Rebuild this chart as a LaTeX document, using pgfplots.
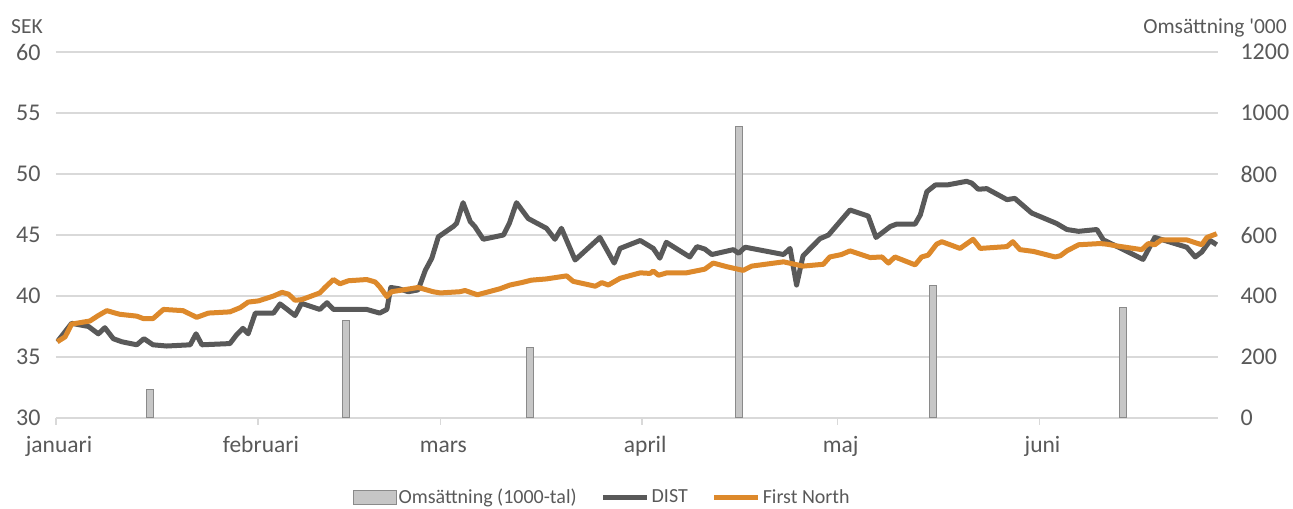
\documentclass[border=0pt]{standalone}
\usepackage{pgfplots}
\pgfplotsset{compat=1.18}
\usepackage{fontspec}
\setmainfont{Carlito}
\definecolor{distc}{RGB}{89,89,89}
\definecolor{fnc}{RGB}{221,137,43}
\definecolor{gridc}{RGB}{217,217,217}
\definecolor{barf}{RGB}{198,198,198}
\definecolor{bard}{RGB}{138,138,138}
\definecolor{txtc}{RGB}{89,89,89}
\begin{document}
\begin{tikzpicture}
\useasboundingbox (0,0) rectangle (1293bp,509bp);
% bars (right axis) with grid
\begin{axis}[
  at={(56bp,91bp)}, anchor=south west,
  scale only axis, width=1162bp, height=366bp,
  xmin=0, xmax=178.4, ymin=0, ymax=1200,
  axis x line*=bottom, axis y line*=right,
  y axis line style={draw=none},
  x axis line style={draw=gridc, line width=1.5bp},
  ytick={0,200,...,1200},
  ytick style={draw=none},
  ymajorgrids, grid style={draw=gridc, line width=1.5bp},
  xtick={0,31,59,90,120,151},
  xticklabels={januari,februari,mars,april,maj,juni},
  xtick style={draw=gridc, line width=1.5bp},
  tick align=outside, major tick length=7bp,
  xticklabel style={font=\fontsize{23.5bp}{28bp}\selectfont, text=txtc, anchor=base, yshift=-27bp, xshift=3bp},
  yticklabel style={font=\fontsize{24bp}{28bp}\selectfont, text=txtc, anchor=west, xshift=12bp},
  /pgf/number format/assume math mode=true,
  /pgf/number format/1000 sep={},
  clip=false,
]
\addplot[ybar, bar width=7bp, fill=barf, draw=bard, line width=1bp] coordinates {
 (14.4,95) (44.5,321) (72.7,230) (104.8,957) (134.7,433) (163.8,361)
};
\end{axis}
% lines (left axis)
\begin{axis}[
  at={(56bp,91bp)}, anchor=south west,
  scale only axis, width=1162bp, height=366bp,
  xmin=0, xmax=178.4, ymin=30, ymax=60,
  axis x line=none, axis y line*=left,
  y axis line style={draw=none},
  ytick={30,35,...,60}, ytick style={draw=none},
  yticklabel style={font=\fontsize{24bp}{28bp}\selectfont, text=txtc, anchor=east, xshift=-12bp},
  /pgf/number format/assume math mode=true,
  legend columns=3,
  legend image code/.code={\draw[#1] (0bp,0bp) -- (44bp,0bp);},
  legend style={at={(0.470,-0.216)}, anchor=center, draw=none, fill=none,
    font=\fontsize{20bp}{24bp}\selectfont, text=txtc,
    /tikz/every even column/.append style={column sep=22bp},
    inner sep=0pt},
  legend cell align=left,
]
\addlegendimage{legend image code/.code={\draw[fill=barf, draw=bard, line width=1bp] (0bp,-7bp) rectangle (43bp,7bp);}}
\addlegendentry{Omsättning (1000-tal)}
\addplot[distc, line width=5bp, line join=round] coordinates {
(0.2,36.25) (2.4,37.76) (5.0,37.5) (6.5,36.9) (7.5,37.4) (8.8,36.5) (10.1,36.25)
(12.4,36.0) (13.5,36.5) (14.9,36.0) (17.0,35.9) (20.6,36.0) (21.5,36.9) (22.4,36.0)
(26.7,36.1) (27.7,36.8) (28.7,37.35) (29.5,36.9) (30.6,38.6) (33.4,38.6) (34.4,39.35)
(35.5,38.9) (36.7,38.4) (37.7,39.4) (40.5,38.9) (41.6,39.45) (42.6,38.9) (47.7,38.9)
(49.7,38.6) (50.8,38.9) (51.4,40.7) (52.6,40.6) (54.1,40.35) (55.6,40.5) (56.7,42.1)
(57.7,43.1) (58.7,44.85) (61.0,45.7) (61.5,45.95) (62.5,47.65) (63.6,46.1) (64.3,45.7)
(65.6,44.65) (68.7,45.0) (69.6,45.95) (70.7,47.65) (72.5,46.35) (75.3,45.55) (76.6,44.65)
(77.6,45.55) (79.7,42.95) (83.5,44.8) (85.7,42.7) (86.6,43.9) (89.7,44.55) (91.7,43.9)
(92.7,43.1) (93.7,44.4) (97.3,43.2) (98.4,44.05) (99.6,43.85) (100.7,43.4) (104.0,43.8)
(104.8,43.5) (105.8,44.0) (111.7,43.4) (112.7,43.9) (113.7,40.9) (114.7,43.3) (117.3,44.7)
(118.6,45.0) (121.9,47.05) (124.7,46.55) (125.9,44.8) (128.1,45.7) (129.1,45.9) (131.9,45.9)
(132.7,46.65) (133.7,48.55) (135.0,49.1) (136.8,49.1) (139.8,49.4) (140.6,49.25) (141.6,48.75)
(142.9,48.8) (146.0,47.9) (147.2,48.0) (149.8,46.8) (153.6,45.95) (155.2,45.45) (157.0,45.3)
(159.8,45.45) (160.8,44.6) (163.9,43.8) (166.9,43.0) (168.7,44.8) (173.6,44.0) (174.9,43.2)
(175.9,43.6) (177.2,44.55) (178.2,44.2)
};
\addlegendentry{DIST}
\addplot[fnc, line width=5bp, line join=round] coordinates {
(0.2,36.25) (1.4,36.65) (2.4,37.7) (5.2,37.95) (6.5,38.4) (7.8,38.8) (9.1,38.6) (9.8,38.5)
(12.4,38.35) (13.4,38.15) (14.9,38.15) (16.5,38.9) (19.5,38.8) (21.6,38.25) (23.4,38.6)
(26.7,38.7) (28.3,39.05) (29.5,39.5) (31.1,39.6) (33.4,40.0) (34.7,40.3) (35.7,40.15)
(36.7,39.65) (37.7,39.7) (40.5,40.25) (41.3,40.7) (42.6,41.35) (43.6,41.0) (44.9,41.25)
(47.7,41.35) (49.0,41.15) (49.7,40.75) (50.8,39.95) (51.5,40.35) (53.3,40.5) (55.6,40.7)
(57.9,40.35) (59.0,40.25) (62.0,40.35) (62.8,40.45) (64.7,40.1) (68.2,40.6) (69.7,40.9)
(71.5,41.1) (73.0,41.3) (75.3,41.4) (78.4,41.65) (79.4,41.2) (82.8,40.8) (83.8,41.1)
(84.8,40.9) (86.6,41.45) (89.7,41.9) (91.2,41.85) (91.7,42.05) (92.5,41.7) (93.8,41.9)
(96.8,41.9) (99.6,42.2) (100.9,42.7) (103.0,42.4) (105.5,42.1) (106.8,42.45) (111.7,42.8)
(114.7,42.45) (117.8,42.6) (118.8,43.2) (120.6,43.4) (121.9,43.7) (125.0,43.15) (126.8,43.2)
(127.8,42.7) (128.8,43.2) (131.9,42.55) (132.9,43.2) (133.9,43.35) (135.2,44.25) (136.0,44.45)
(138.8,43.9) (140.8,44.65) (141.9,43.9) (146.0,44.05) (146.9,44.45) (148.0,43.8) (150.1,43.65)
(153.4,43.2) (154.2,43.3) (155.2,43.7) (157.0,44.2) (160.3,44.3) (161.3,44.25) (162.9,44.1)
(166.7,43.8) (167.7,44.3) (168.7,44.2) (169.7,44.6) (173.6,44.6) (175.9,44.2) (176.7,44.8)
(178.2,45.1)
};
\addlegendentry{First North}
\end{axis}
\node[anchor=base west, text=txtc, font=\fontsize{21.5bp}{24bp}\selectfont, inner sep=0pt] at (11bp,475bp) {SEK};
\node[anchor=base east, text=txtc, font=\fontsize{21.5bp}{24bp}\selectfont, inner sep=0pt] at (1287bp,475bp) {Omsättning \textquotesingle 000};
\end{tikzpicture}
\end{document}
